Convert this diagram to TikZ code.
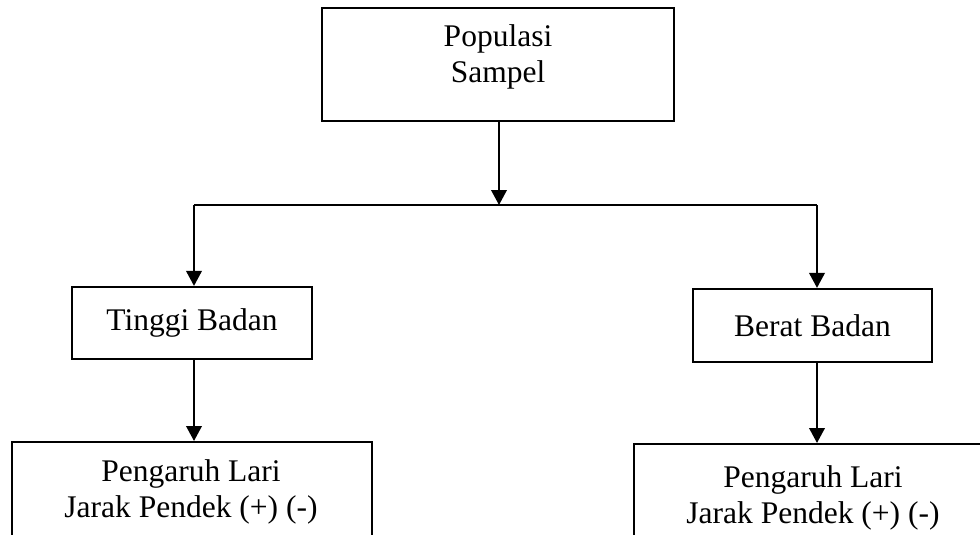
\documentclass[tikz,border=0pt]{standalone}
\usepackage{fontspec}
\setmainfont{Liberation Serif}
\usetikzlibrary{arrows.meta}
\tikzset{
  box/.style={draw, line width=1.1pt, inner sep=0pt, fill=none},
  conn/.style={line width=1.1pt},
  arr/.style={line width=1.1pt, -{Triangle[length=7.5pt,width=7.75pt]}},
  txt/.style={inner sep=0pt, font=\fontsize{15.75}{18}\selectfont}
}
\begin{document}
\begin{tikzpicture}[x=0.5pt,y=-0.5pt]
\useasboundingbox (0,0) rectangle (980,535);
\clip (0,0) rectangle (980,535);
% boxes
\node[box, minimum width=176pt, minimum height=56.5pt] (top) at (498,64.5) {};
\node[txt, anchor=base] (toptxt) at (498,47) {\setlength{\tabcolsep}{0pt}\begin{tabular}[t]{c}Populasi\\Sampel\end{tabular}};
\node[box, txt, minimum width=120pt, minimum height=36pt] (tb) at (192,323) {Tinggi Badan};
\node[box, txt, minimum width=119.5pt, minimum height=36.5pt] (bb) at (812.5,325.5) {Berat Badan};
\node[box, minimum width=180pt, minimum height=70pt, anchor=north] (lb) at (192,441) {};
\node[box, minimum width=200pt, minimum height=70pt, anchor=north west] (rb) at (633,443) {};
\node[txt, anchor=base] (lbt) at (191,481) {\setlength{\tabcolsep}{0pt}\begin{tabular}[t]{c}Pengaruh Lari\\Jarak Pendek (+) (-)\end{tabular}};
\node[txt, anchor=base] (rbt) at (813,487) {\setlength{\tabcolsep}{0pt}\begin{tabular}[t]{c}Pengaruh Lari\\Jarak Pendek (+) (-)\end{tabular}};
% junctions
\coordinate (j1) at (194,205);
\coordinate (j2) at (817,205);
\coordinate (jm) at (499,205);
\draw[conn] (j1) -- (j2);
\draw[arr] (jm |- top.south) -- (jm);
\draw[arr] (j1) -- (j1 |- tb.north);
\draw[arr] (j2) -- (j2 |- bb.north);
\draw[arr] (j1 |- tb.south) -- (j1 |- lb.north);
\draw[arr] (j2 |- bb.south) -- (j2 |- rb.north);
\end{tikzpicture}
\end{document}
